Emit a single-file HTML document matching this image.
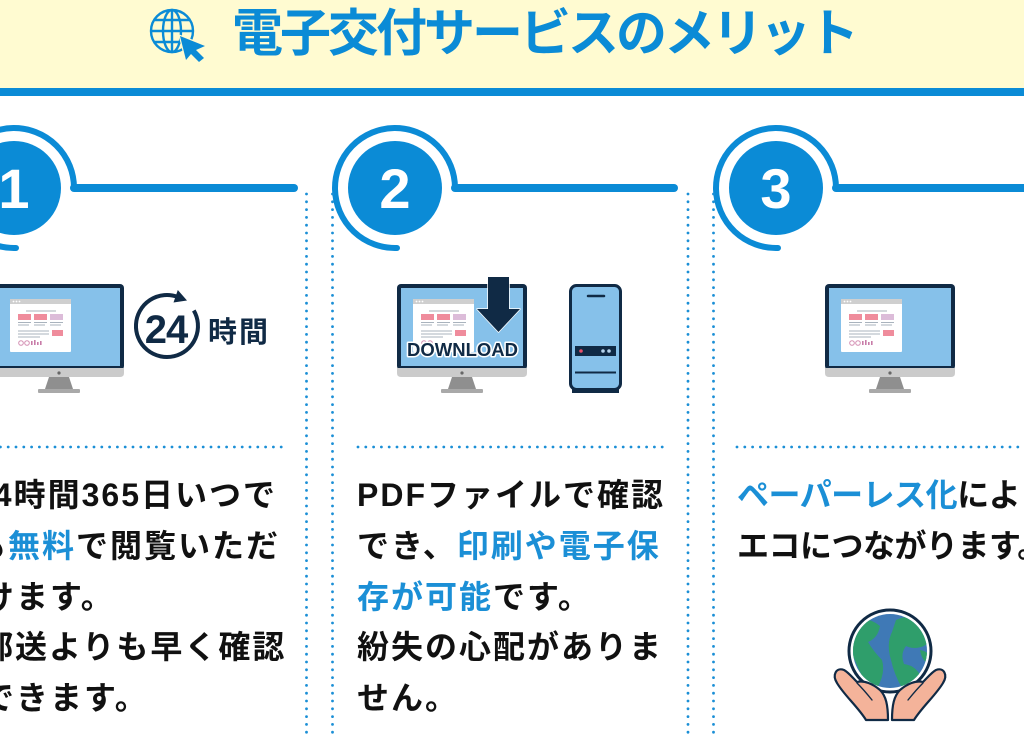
<!DOCTYPE html>
<html lang="ja">
<head>
<meta charset="utf-8">
<style>
  html,body{margin:0;padding:0;background:#fff;width:1024px;height:734px;overflow:hidden;}
  svg{display:block;}
  .t{font-family:"Liberation Sans","Noto Sans CJK JP",sans-serif;font-weight:bold;}
</style>
</head>
<body>
<svg width="1024" height="734" viewBox="0 0 1024 734" xmlns="http://www.w3.org/2000/svg">
  <!-- Header -->
  <rect x="0" y="0" width="1024" height="88" fill="#fffbd1"/>
  <rect x="0" y="88" width="1024" height="8" fill="#0b8bd6"/>

  <!-- globe icon -->
  <g fill="none" stroke="#0b8bd6" stroke-width="2.4">
    <circle cx="172" cy="31" r="21"/>
    <ellipse cx="172" cy="31" rx="9" ry="21"/>
    <line x1="172" y1="10" x2="172" y2="52"/>
    <line x1="151" y1="31" x2="193" y2="31"/>
    <line x1="155" y1="20" x2="189" y2="20"/>
    <line x1="155" y1="42" x2="189" y2="42"/>
  </g>
  <path d="M180 36 L205 46 L196 50 L204 58 L199 62 L191 54 L186 60 Z" fill="#0b8bd6" stroke="#fffbd1" stroke-width="2.5" paint-order="stroke" stroke-linejoin="round"/>

  <text class="t" x="232" y="51" font-size="51" fill="#0b8bd6" style="letter-spacing:-3px">電子交付サービスのメリット</text>

  <!-- Number badges -->
  <g fill="none" stroke="#0b8bd6" stroke-linecap="round">
    <path d="M16 248 A60 60 0 1 1 74 188" stroke-width="6"/>
    <line x1="74" y1="188" x2="294" y2="188" stroke-width="8"/>
    <path d="M397 248 A60 60 0 1 1 455 188" stroke-width="6"/>
    <line x1="455" y1="188" x2="674" y2="188" stroke-width="8"/>
    <path d="M778 248 A60 60 0 1 1 836 188" stroke-width="6"/>
    <line x1="836" y1="188" x2="1040" y2="188" stroke-width="8"/>
  </g>
  <circle cx="14" cy="188" r="47" fill="#0b8bd6"/>
  <circle cx="395" cy="188" r="47" fill="#0b8bd6"/>
  <circle cx="776" cy="188" r="47" fill="#0b8bd6"/>
  <g class="t" font-size="56" fill="#fff" text-anchor="middle">
    <text x="14" y="208">1</text>
    <text x="395" y="208">2</text>
    <text x="776" y="208">3</text>
  </g>

  <!-- dotted lines -->
  <g stroke="#1b8fd6" stroke-width="2.8" stroke-linecap="round" stroke-dasharray="0 7.8" fill="none">
    <line x1="306.5" y1="194" x2="306.5" y2="740"/>
    <line x1="332.5" y1="194" x2="332.5" y2="740"/>
    <line x1="688" y1="194" x2="688" y2="740"/>
    <line x1="713.5" y1="194" x2="713.5" y2="740"/>
    <line x1="-23" y1="447" x2="286" y2="447"/>
    <line x1="358" y1="447" x2="667" y2="447"/>
    <line x1="737" y1="447" x2="1030" y2="447"/>
  </g>

  <!-- Monitors -->
  <g transform="translate(-6,284)">
    <rect x="0" y="0" width="130" height="86" rx="4" fill="#102a45"/>
    <rect x="4" y="4" width="122" height="78" fill="#86c1ea"/>
    <path d="M0 84 H130 V89 Q130 93 126 93 H4 Q0 93 0 89 Z" fill="#cbcbcb"/>
    <circle cx="65" cy="89" r="1.6" fill="#666"/>
    <path d="M55 93 H75 L79 105 H51 Z" fill="#8f8f8f"/>
    <rect x="44" y="105" width="42" height="4" rx="1" fill="#a9a9a9"/>
    <g transform="translate(16,15)">
      <rect width="61" height="53" rx="1" fill="#fff"/>
      <rect width="61" height="5" fill="#cfcfcf"/>
      <circle cx="3.5" cy="2.5" r="0.9" fill="#fff"/><circle cx="6.5" cy="2.5" r="0.9" fill="#fff"/><circle cx="9.5" cy="2.5" r="0.9" fill="#fff"/>
      <line x1="16" y1="12" x2="46" y2="12" stroke="#b9c0c8" stroke-width="1.2"/>
      <rect x="8" y="15" width="13" height="6" fill="#ef8c9c"/>
      <rect x="24" y="15" width="13" height="6" fill="#ef8c9c"/>
      <rect x="40" y="15" width="13" height="6" fill="#dcbcd9"/>
      <g stroke="#a9b3bd" stroke-width="1">
        <line x1="8" y1="23.5" x2="21" y2="23.5"/><line x1="24" y1="23.5" x2="37" y2="23.5"/><line x1="40" y1="23.5" x2="53" y2="23.5"/>
        <line x1="8" y1="26" x2="19" y2="26"/><line x1="24" y1="26" x2="35" y2="26"/><line x1="40" y1="26" x2="51" y2="26"/>
        <line x1="8" y1="32" x2="39" y2="32"/><line x1="8" y1="35" x2="39" y2="35"/><line x1="8" y1="38" x2="30" y2="38"/>
      </g>
      <rect x="42" y="31" width="11" height="6" fill="#ef8c9c"/>
      <circle cx="11" cy="44" r="2.3" fill="none" stroke="#d48fb3" stroke-width="1"/>
      <circle cx="17" cy="44" r="2.3" fill="none" stroke="#d48fb3" stroke-width="1"/>
      <rect x="21" y="42" width="1.6" height="4" fill="#c87ca8"/><rect x="24" y="41" width="1.6" height="5" fill="#c87ca8"/><rect x="27" y="43" width="1.6" height="3" fill="#c87ca8"/><rect x="30" y="42" width="1.6" height="4" fill="#c87ca8"/>
    </g>
  </g>
  <g transform="translate(397,284)">
    <rect x="0" y="0" width="130" height="86" rx="4" fill="#102a45"/>
    <rect x="4" y="4" width="122" height="78" fill="#86c1ea"/>
    <path d="M0 84 H130 V89 Q130 93 126 93 H4 Q0 93 0 89 Z" fill="#cbcbcb"/>
    <circle cx="65" cy="89" r="1.6" fill="#666"/>
    <path d="M55 93 H75 L79 105 H51 Z" fill="#8f8f8f"/>
    <rect x="44" y="105" width="42" height="4" rx="1" fill="#a9a9a9"/>
    <g transform="translate(16,15)">
      <rect width="61" height="53" rx="1" fill="#fff"/>
      <rect width="61" height="5" fill="#cfcfcf"/>
      <circle cx="3.5" cy="2.5" r="0.9" fill="#fff"/><circle cx="6.5" cy="2.5" r="0.9" fill="#fff"/><circle cx="9.5" cy="2.5" r="0.9" fill="#fff"/>
      <line x1="16" y1="12" x2="46" y2="12" stroke="#b9c0c8" stroke-width="1.2"/>
      <rect x="8" y="15" width="13" height="6" fill="#ef8c9c"/>
      <rect x="24" y="15" width="13" height="6" fill="#ef8c9c"/>
      <rect x="40" y="15" width="13" height="6" fill="#dcbcd9"/>
      <g stroke="#a9b3bd" stroke-width="1">
        <line x1="8" y1="23.5" x2="21" y2="23.5"/><line x1="24" y1="23.5" x2="37" y2="23.5"/><line x1="40" y1="23.5" x2="53" y2="23.5"/>
        <line x1="8" y1="26" x2="19" y2="26"/><line x1="24" y1="26" x2="35" y2="26"/><line x1="40" y1="26" x2="51" y2="26"/>
        <line x1="8" y1="32" x2="39" y2="32"/><line x1="8" y1="35" x2="39" y2="35"/><line x1="8" y1="38" x2="30" y2="38"/>
      </g>
      <rect x="42" y="31" width="11" height="6" fill="#ef8c9c"/>
      <circle cx="11" cy="44" r="2.3" fill="none" stroke="#d48fb3" stroke-width="1"/>
      <circle cx="17" cy="44" r="2.3" fill="none" stroke="#d48fb3" stroke-width="1"/>
    </g>
  </g>
  <g transform="translate(825,284)">
    <rect x="0" y="0" width="130" height="86" rx="4" fill="#102a45"/>
    <rect x="4" y="4" width="122" height="78" fill="#86c1ea"/>
    <path d="M0 84 H130 V89 Q130 93 126 93 H4 Q0 93 0 89 Z" fill="#cbcbcb"/>
    <circle cx="65" cy="89" r="1.6" fill="#666"/>
    <path d="M55 93 H75 L79 105 H51 Z" fill="#8f8f8f"/>
    <rect x="44" y="105" width="42" height="4" rx="1" fill="#a9a9a9"/>
    <g transform="translate(16,15)">
      <rect width="61" height="53" rx="1" fill="#fff"/>
      <rect width="61" height="5" fill="#cfcfcf"/>
      <circle cx="3.5" cy="2.5" r="0.9" fill="#fff"/><circle cx="6.5" cy="2.5" r="0.9" fill="#fff"/><circle cx="9.5" cy="2.5" r="0.9" fill="#fff"/>
      <line x1="16" y1="12" x2="46" y2="12" stroke="#b9c0c8" stroke-width="1.2"/>
      <rect x="8" y="15" width="13" height="6" fill="#ef8c9c"/>
      <rect x="24" y="15" width="13" height="6" fill="#ef8c9c"/>
      <rect x="40" y="15" width="13" height="6" fill="#dcbcd9"/>
      <g stroke="#a9b3bd" stroke-width="1">
        <line x1="8" y1="23.5" x2="21" y2="23.5"/><line x1="24" y1="23.5" x2="37" y2="23.5"/><line x1="40" y1="23.5" x2="53" y2="23.5"/>
        <line x1="8" y1="26" x2="19" y2="26"/><line x1="24" y1="26" x2="35" y2="26"/><line x1="40" y1="26" x2="51" y2="26"/>
        <line x1="8" y1="32" x2="39" y2="32"/><line x1="8" y1="35" x2="39" y2="35"/><line x1="8" y1="38" x2="30" y2="38"/>
      </g>
      <rect x="42" y="31" width="11" height="6" fill="#ef8c9c"/>
      <circle cx="11" cy="44" r="2.3" fill="none" stroke="#d48fb3" stroke-width="1"/>
      <circle cx="17" cy="44" r="2.3" fill="none" stroke="#d48fb3" stroke-width="1"/>
      <rect x="21" y="42" width="1.6" height="4" fill="#c87ca8"/><rect x="24" y="41" width="1.6" height="5" fill="#c87ca8"/><rect x="27" y="43" width="1.6" height="3" fill="#c87ca8"/><rect x="30" y="42" width="1.6" height="4" fill="#c87ca8"/>
    </g>
  </g>

  <!-- Download arrow + text -->
  <path d="M488 277 H509 V309 H520 L498.5 332 L477 309 H488 Z" fill="#102a45" stroke="#fff" stroke-width="1.5" paint-order="stroke" stroke-linejoin="round"/>
  <text x="462.5" y="356" text-anchor="middle" font-family="Liberation Sans, sans-serif" font-size="18.5" font-weight="bold" fill="#102a45" stroke="#fff" stroke-width="3" paint-order="stroke" stroke-linejoin="round">DOWNLOAD</text>

  <!-- Tower PC -->
  <rect x="570.5" y="285.5" width="50" height="104" rx="6" fill="#86c1ea" stroke="#102a45" stroke-width="3"/>
  <rect x="572" y="388" width="47" height="5" fill="#102a45"/>
  <line x1="588" y1="296" x2="604" y2="296" stroke="#102a45" stroke-width="2.5" stroke-linecap="round"/>
  <rect x="575" y="346" width="41" height="10" fill="#102a45"/>
  <circle cx="581" cy="351" r="1.8" fill="#e8506a"/>
  <circle cx="603" cy="351" r="1.8" fill="#b5d3ec"/>
  <circle cx="609" cy="351" r="1.8" fill="#b5d3ec"/>
  <line x1="575" y1="372.5" x2="616" y2="372.5" stroke="#102a45" stroke-width="2"/>

  <!-- 24時間 icon -->
  <path d="M193.8 310.5 A31 31 0 1 1 177.6 296.9" fill="none" stroke="#102a45" stroke-width="4"/>
  <path d="M187 300.5 L173.5 302.5 L177.8 290 Z" fill="#102a45"/>
  <text x="166" y="343" text-anchor="middle" font-family="Liberation Sans, sans-serif" font-size="40" font-weight="bold" fill="#102a45" style="letter-spacing:-1px">24</text>
  <text class="t" x="208" y="342" font-size="29" fill="#102a45" style="letter-spacing:2px">時間</text>

  <!-- Globe with hands -->
  <defs>
    <clipPath id="gc"><circle cx="890" cy="651" r="37"/></clipPath>
  </defs>
  <circle cx="890" cy="651" r="41" fill="#fff" stroke="#102a45" stroke-width="3"/>
  <circle cx="890" cy="651" r="37" fill="#3f79b6"/>
  <g clip-path="url(#gc)" fill="#2f9e6b">
    <path d="M850 624 Q866 614 880 626 Q878 638 868 642 Q874 652 882 660 Q886 674 876 690 Q864 694 864 680 Q858 668 854 658 Q846 646 850 636 Z"/>
    <path d="M896 620 Q914 612 930 624 Q934 640 924 646 Q914 650 906 646 Q900 654 904 664 Q918 666 922 680 Q912 694 902 688 Q894 674 891 660 Q886 644 892 632 Z"/>
    <path d="M920 650 Q932 652 930 664 Q922 662 920 650 Z"/>
  </g>
  <g fill="#f4b39a" stroke="#102a45" stroke-width="2.2" stroke-linejoin="round">
    <path d="M866 720 C858 707 844 695 837 683 C832 675 836 667 844 670 C848 672 852 677 857 682 C864 680 873 684 880 690 C886 696 888 705 888 720 Z"/>
    <path d="M914 720 C922 707 936 695 943 683 C948 675 944 667 936 670 C932 672 928 677 923 682 C916 680 907 684 900 690 C894 696 892 705 892 720 Z"/>
  </g>
  <g fill="none" stroke="#102a45" stroke-width="1.4" stroke-linecap="round">
    <path d="M857 683 Q864 690 872 700"/>
    <path d="M923 683 Q916 690 908 700"/>
  </g>

  <!-- Paragraph text -->
  <g class="t" font-size="32" fill="#111" style="letter-spacing:2px">
    <text x="-26" y="506">24時間365日いつで</text>
    <text x="-26" y="557">も<tspan fill="#1b8fd6">無料</tspan>で閲覧いただ</text>
    <text x="-18" y="608">けます。</text>
    <text x="-19" y="658">郵送よりも早く確認</text>
    <text x="-18" y="709">できます。</text>

    <text x="357" y="506">PDFファイルで確認</text>
    <text x="357" y="557">でき、<tspan fill="#1b8fd6">印刷や電子保</tspan></text>
    <text x="357" y="608"><tspan fill="#1b8fd6">存が可能</tspan>です。</text>
    <text x="357" y="658">紛失の心配がありま</text>
    <text x="357" y="709">せん。</text>
  </g>
  <g class="t" font-size="32" fill="#111" style="letter-spacing:-0.5px">
    <text x="737" y="506"><tspan fill="#1b8fd6">ペーパーレス化</tspan>により</text>
    <text x="737" y="557">エコにつながります。</text>
  </g>
</svg>
</body>
</html>
